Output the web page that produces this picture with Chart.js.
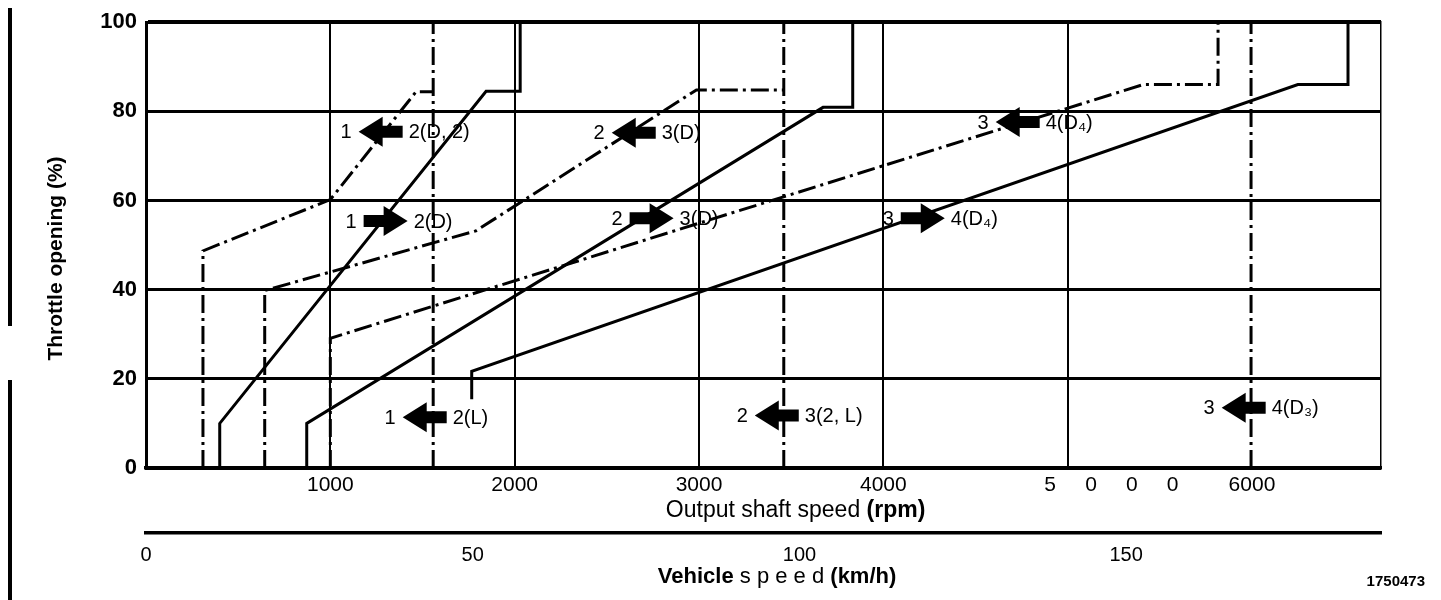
<!DOCTYPE html>
<html>
<head>
<meta charset="utf-8">
<title>Shift diagram</title>
<script src="https://cdn.jsdelivr.net/npm/chart.js@4.4.0/dist/chart.umd.min.js"></script>
<style>
  html, body { margin: 0; padding: 0; background: #fff; }
  #wrap { position: relative; width: 1441px; height: 600px; }
  .bar { position: absolute; left: 8px; width: 4px; background: #000; }
</style>
</head>
<body>
<div id="wrap">
  <canvas id="shiftChart" width="1441" height="600"></canvas>
  <div class="bar" style="top:8px;height:318px"></div>
  <div class="bar" style="top:380px;height:220px"></div>
</div>
<script>
// axis ticks
var rpmTicks = [1000, 2000, 3000, 4000, 5000, 6000];
var throttleTicks = [0, 20, 40, 60, 80, 100];
var kmhTicks = [0, 50, 100, 150];

// shift lines: output shaft speed (rpm) vs throttle opening (%)
var up12X = [400, 400, 1845, 2030, 2030];       // 1 -> 2 (D)
var up12Y = [0, 10, 84.5, 84.5, 100];
var down12X = [309, 309, 1000, 1465, 1558];     // 1 <- 2 (D, 2)
var down12Y = [0, 48.7, 60.2, 84.4, 84.4];
var down12LX = [1558, 1558];                    // 1 <- 2 (L)
var down12LY = [0, 100];

var up23X = [872, 872, 3673, 3834, 3834];       // 2 -> 3 (D)
var up23Y = [0, 10, 80.9, 80.9, 100];
var down23X = [644, 644, 1790, 2986, 3460];     // 2 <- 3 (D)
var down23Y = [0, 39.8, 53.2, 84.8, 84.8];
var down23LX = [3460, 3460];                    // 2 <- 3 (2, L)
var down23LY = [0, 100];

var up34X = [1767, 1767, 6249, 6521, 6521];     // 3 -> 4 (D4)
var up34Y = [15.4, 21.7, 86, 86, 100];
var down34X = [1000, 1000, 5409, 5816, 5816];   // 3 <- 4 (D4)
var down34Y = [0, 29.1, 86, 86, 100];
var down34D3X = [5995, 5995];                   // 3 <- 4 (D3)
var down34D3Y = [0, 100];

// arrow labels, placed at arrow centre (rpm, %)
var noteX = [1273, 1300, 1512, 2646, 2743, 3422, 4729, 4214, 5955];
var noteY = [75.4, 55.4, 11.4, 75.2, 56.0, 11.8, 77.6, 56.0, 13.5];
var noteDir = ['left', 'right', 'left', 'left', 'right', 'left', 'left', 'right', 'left'];
var noteFrom = ['1', '1', '1', '2', '2', '2', '3', '3', '3'];
var noteTo = ['2(D, 2)', '2(D)', '2(L)', '3(D)', '3(D)', '3(2, L)', '4(D\u2084)', '4(D\u2084)', '4(D\u2083)'];

var FONT = "'Liberation Sans', Arial, Helvetica, sans-serif";
var DASH = [18, 5, 3, 5];

function pts(xs, ys) {
  return xs.map(function(x, i) { return { x: x, y: ys[i] }; });
}

function line(label, xs, ys, dashed) {
  return {
    label: label,
    data: pts(xs, ys),
    showLine: true,
    borderColor: '#000',
    borderWidth: 3,
    borderDash: dashed ? DASH : [],
    borderJoinStyle: 'miter',
    pointRadius: 0,
    fill: false,
    tension: 0
  };
}

function drawParts(ctx, parts, cx, cy, size) {
  var total = 0;
  parts.forEach(function(p) {
    ctx.font = (p.bold ? 'bold ' : '') + size + 'px ' + FONT;
    p.w = ctx.measureText(p.text).width;
    total += p.w;
  });
  var x = cx - total / 2;
  ctx.textAlign = 'left';
  ctx.textBaseline = 'middle';
  parts.forEach(function(p) {
    ctx.font = (p.bold ? 'bold ' : '') + size + 'px ' + FONT;
    ctx.fillText(p.text, x, cy);
    x += p.w;
  });
}

var notesPlugin = {
  id: 'notes',
  afterDatasetsDraw: function(chart) {
    var ctx = chart.ctx;
    var xs = chart.scales.x, ys = chart.scales.y;
    var L = 44, headLen = 24, headH = 30, shaftH = 12;
    ctx.save();
    ctx.fillStyle = '#000';
    for (var i = 0; i < noteX.length; i++) {
      var cx = xs.getPixelForValue(noteX[i]);
      var cy = ys.getPixelForValue(noteY[i]);
      var l = cx - L / 2, r = cx + L / 2;
      ctx.beginPath();
      if (noteDir[i] === 'left') {
        ctx.moveTo(l, cy);
        ctx.lineTo(l + headLen, cy - headH / 2);
        ctx.lineTo(l + headLen, cy - shaftH / 2);
        ctx.lineTo(r, cy - shaftH / 2);
        ctx.lineTo(r, cy + shaftH / 2);
        ctx.lineTo(l + headLen, cy + shaftH / 2);
        ctx.lineTo(l + headLen, cy + headH / 2);
      } else {
        ctx.moveTo(r, cy);
        ctx.lineTo(r - headLen, cy - headH / 2);
        ctx.lineTo(r - headLen, cy - shaftH / 2);
        ctx.lineTo(l, cy - shaftH / 2);
        ctx.lineTo(l, cy + shaftH / 2);
        ctx.lineTo(r - headLen, cy + shaftH / 2);
        ctx.lineTo(r - headLen, cy + headH / 2);
      }
      ctx.closePath();
      ctx.fill();
      ctx.font = '20px ' + FONT;
      ctx.textBaseline = 'middle';
      ctx.textAlign = 'right';
      ctx.fillText(noteFrom[i], l - 7, cy + 1);
      ctx.textAlign = 'left';
      ctx.fillText(noteTo[i], r + 6, cy + 1);
    }
    ctx.restore();
  },
  afterDraw: function(chart) {
    var ctx = chart.ctx;
    var area = chart.chartArea;
    var xs = chart.scales.x, x2 = chart.scales.x2;
    ctx.save();
    ctx.fillStyle = '#000';
    drawParts(ctx, [
      { text: 'Output shaft speed ', bold: false },
      { text: '(rpm)', bold: true }
    ], area.left + 0.526 * (area.right - area.left), xs.top + 43, 23);
    drawParts(ctx, [
      { text: 'Vehicle', bold: true },
      { text: ' s p e e d ', bold: false },
      { text: '(km/h)', bold: true }
    ], area.left + 0.511 * (area.right - area.left), x2.top + 44, 22);

    ctx.translate(56, area.top + 0.53 * (area.bottom - area.top));
    ctx.rotate(-Math.PI / 2);
    drawParts(ctx, [{ text: 'Throttle opening (%)', bold: true }], 0, 0, 21);
    ctx.restore();

    ctx.save();
    ctx.fillStyle = '#000';
    ctx.font = 'bold 15px ' + FONT;
    ctx.textAlign = 'right';
    ctx.textBaseline = 'middle';
    ctx.fillText('1750473', 1425, 582);
    ctx.restore();
  }
};

var ctx = document.getElementById('shiftChart').getContext('2d');
var shiftChart = new Chart(ctx, {
  type: 'scatter',
  data: {
    datasets: [
      line('1-2 (D)', up12X, up12Y, false),
      line('1-2 (D, 2) down', down12X, down12Y, true),
      line('1-2 (L) down', down12LX, down12LY, true),
      line('2-3 (D)', up23X, up23Y, false),
      line('2-3 (D) down', down23X, down23Y, true),
      line('2-3 (2, L) down', down23LX, down23LY, true),
      line('3-4 (D4)', up34X, up34Y, false),
      line('3-4 (D4) down', down34X, down34Y, true),
      line('3-4 (D3) down', down34D3X, down34D3Y, true)
    ]
  },
  options: {
    responsive: false,
    animation: false,
    layout: { padding: { top: 17, right: 60, bottom: 7, left: 0 } },
    plugins: {
      legend: { display: false },
      tooltip: { enabled: false }
    },
    scales: {
      x: {
        type: 'linear',
        position: 'bottom',
        min: 0,
        max: 6700,
        afterBuildTicks: function(s) { s.ticks = rpmTicks.map(function(v) { return { value: v }; }); },
        afterFit: function(s) { s.height = 65; },
        grid: {
          color: function(c) { return c.tick && c.tick.value === 6000 ? 'rgba(0,0,0,0)' : '#000'; },
          lineWidth: 2,
          drawTicks: false
        },
        border: { color: '#000', width: 3.5 },
        ticks: {
          color: '#000',
          font: { family: FONT, size: 21 },
          padding: 5,
          maxRotation: 0,
          autoSkip: false,
          callback: function(v) {
            return v === 5000 ? '               5     0     0     0' : String(v);
          }
        }
      },
      x2: {
        type: 'linear',
        position: 'bottom',
        min: 0,
        max: 189,
        afterBuildTicks: function(s) { s.ticks = kmhTicks.map(function(v) { return { value: v }; }); },
        afterFit: function(s) { s.height = 60; },
        grid: { display: false },
        border: { display: true, color: '#000', width: 3.5 },
        ticks: {
          color: '#000',
          font: { family: FONT, size: 20 },
          padding: 2,
          maxRotation: 0,
          autoSkip: false,
          callback: function(v) { return String(v); }
        }
      },
      y: {
        type: 'linear',
        position: 'left',
        min: 0,
        max: 100,
        afterBuildTicks: function(s) { s.ticks = throttleTicks.map(function(v) { return { value: v }; }); },
        afterFit: function(s) { s.width = 146; },
        grid: {
          color: '#000',
          lineWidth: function(c) { return c.tick && c.tick.value === 100 ? 4 : 3; },
          drawTicks: false
        },
        border: { color: '#000', width: 3 },
        ticks: {
          color: '#000',
          font: { family: FONT, size: 22, weight: 'bold' },
          padding: 9,
          callback: function(v) { return String(v); }
        }
      },
      y2: {
        type: 'linear',
        position: 'right',
        min: 0,
        max: 100,
        afterFit: function(s) { s.width = 0; },
        grid: { display: false },
        border: { display: true, color: '#000', width: 1.5 },
        ticks: { display: false }
      }
    }
  },
  plugins: [notesPlugin]
});
</script>
</body>
</html>
